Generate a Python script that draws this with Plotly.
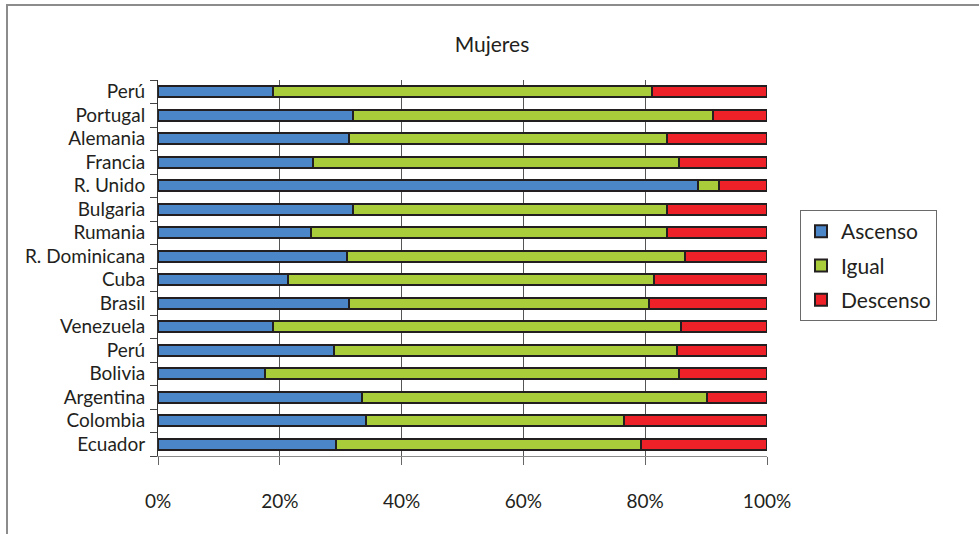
import plotly.graph_objects as go

categories = ["Perú", "Portugal", "Alemania", "Francia", "R. Unido", "Bulgaria",
              "Rumania", "R. Dominicana", "Cuba", "Brasil", "Venezuela", "Perú",
              "Bolivia", "Argentina", "Colombia", "Ecuador"]
ascenso = [18.9, 32.1, 31.4, 25.5, 88.7, 32.1, 25.2, 31.1, 21.4, 31.4, 18.9, 28.9, 17.5, 33.5, 34.2, 29.3]
igual = [62.2, 59.0, 52.1, 60.0, 3.4, 51.4, 58.3, 55.5, 60.0, 49.3, 67.0, 56.3, 68.0, 56.6, 42.3, 50.0]
descenso = [18.9, 8.9, 16.5, 14.5, 7.9, 16.5, 16.5, 13.4, 18.6, 19.3, 14.1, 14.8, 14.5, 9.9, 23.5, 20.7]
series_names = ["Ascenso", "Igual", "Descenso"]
colors = ["#4a86c8", "#a9cc3a", "#ee2128"]
xticks = [0, 20, 40, 60, 80, 100]
xticklabels = ["0%", "20%", "40%", "60%", "80%", "100%"]

pos = list(range(len(categories)))
FONT = "Lato"
TXT = "#231f20"

fig = go.Figure()
for name, vals, col in zip(series_names, [ascenso, igual, descenso], colors):
    fig.add_trace(go.Bar(
        y=pos, x=vals, name=name, orientation="h", legendgroup=name,
        marker=dict(color=col, line=dict(color="#231f20", width=2)),
        width=0.45,
    ))

W, H = 979, 534
L, R, T, B = 158, 212, 80, 78
pw, ph = W - L - R, H - T - B

def px2x(px):
    return (px - L) / pw

def py2y(py):
    return (H - B - py) / ph

fig.update_layout(
    width=W, height=H, barmode="stack",
    margin=dict(l=L, r=R, t=T, b=B),
    paper_bgcolor="white", plot_bgcolor="white",
    font=dict(family=FONT, color=TXT, size=19),
    title=dict(text="Mujeres", x=492 / W, xref="container",
               y=1 - 45 / H, yref="container",
               xanchor="center", yanchor="middle",
               font=dict(size=21, family=FONT, color=TXT)),
    xaxis=dict(range=[0, 100], tickvals=xticks, ticktext=xticklabels,
               showgrid=True, gridcolor="#555555", gridwidth=1,
               showline=True, linecolor="#8a8a8a", linewidth=1,
               ticks="outside", ticklen=8, tickcolor="#666666",
               ticklabelstandoff=20, zeroline=False,
               tickfont=dict(size=19, family=FONT, color=TXT)),
    yaxis=dict(range=[15.5, -0.5], tickvals=pos, ticktext=categories,
               showgrid=False, zeroline=False,
               showline=True, linecolor="#333333", linewidth=1,
               ticks="", ticklabelstandoff=8,
               minor=dict(tick0=-0.5, dtick=1, ticks="outside", ticklen=7,
                          tickcolor="#444444", showgrid=False),
               tickfont=dict(size=19, family=FONT, color=TXT)),
    legend=dict(x=px2x(800), y=py2y(210), xanchor="left", yanchor="top",
                traceorder="grouped", tracegroupgap=4,
                bordercolor="#6a6a6a", borderwidth=1, bgcolor="white",
                font=dict(size=21, family=FONT, color=TXT)),
    showlegend=True,
    shapes=[dict(type="rect", xref="paper", yref="paper",
                 x0=px2x(7), x1=px2x(1000), y0=py2y(560), y1=py2y(5),
                 line=dict(color="#8c8c8c", width=2), fillcolor="rgba(0,0,0,0)",
                 layer="below")],
)

fig.write_html("out.html",
               config={"displayModeBar": False},
               post_script="document.body.style.margin='0';document.body.style.overflow='hidden';")
